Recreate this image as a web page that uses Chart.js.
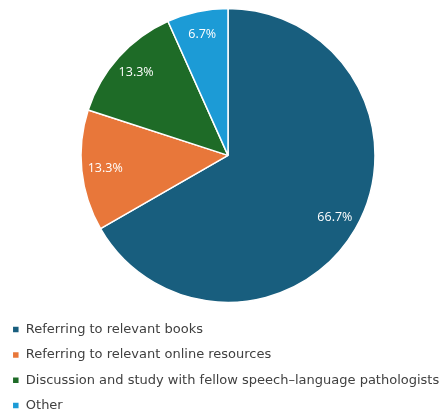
<!DOCTYPE html>
<html>
<head>
<meta charset="utf-8">
<script src="https://cdn.jsdelivr.net/npm/chart.js@4"></script>
<style>
  html, body { margin: 0; padding: 0; background: #ffffff; }
  #wrap { width: 441px; height: 414px; position: relative; }
</style>
</head>
<body>
<div id="wrap"><canvas id="c" width="441" height="414"></canvas></div>
<script>
const categories = [
  "Referring to relevant books",
  "Referring to relevant online resources",
  "Discussion and study with fellow speech\u2013language pathologists",
  "Other"
];
const values = [66.7, 13.3, 13.3, 6.7];
const valueLabels = ["66.7%", "13.3%", "13.3%", "6.7%"];

const colors = ["#185E7E", "#E8773A", "#1E6B27", "#1C9BD6"];

// shift the plot area horizontally so the pie sits slightly right of centre
const shiftPlugin = {
  id: "shiftArea",
  afterLayout(chart) {
    chart.chartArea.left += 7.5;
    chart.chartArea.right += 7.5;
  }
};

const sliceLabelPlugin = {
  id: "sliceLabels",
  afterDatasetsDraw(chart) {
    const ctx = chart.ctx;
    const meta = chart.getDatasetMeta(0);
    ctx.save();
    ctx.font = "12.5px 'Open Sans', 'Noto Sans', sans-serif";
    ctx.fillStyle = "#ffffff";
    ctx.textAlign = "center";
    ctx.textBaseline = "middle";
    meta.data.forEach((arc, i) => {
      const p = arc.getProps(["x", "y", "startAngle", "endAngle", "outerRadius"], true);
      const mid = (p.startAngle + p.endAngle) / 2;
      const r = p.outerRadius * 0.84;
      ctx.fillText(valueLabels[i], p.x + Math.cos(mid) * r, p.y + Math.sin(mid) * r);
    });
    ctx.restore();
  }
};

new Chart(document.getElementById("c"), {
  type: "pie",
  data: {
    labels: categories,
    datasets: [{
      data: values,
      backgroundColor: colors,
      borderColor: "#ffffff",
      borderWidth: 1.5,
      radius: 147
    }]
  },
  options: {
    responsive: false,
    animation: false,
    devicePixelRatio: 1,
    layout: { padding: { top: -2, left: 0, right: 0, bottom: -8 } },
    plugins: {
      tooltip: { enabled: false },
      legend: {
        position: "bottom",
        align: "start",
        labels: {
          boxWidth: 7,
          boxHeight: 7,
          padding: 12.3,
          color: "#404040",
          font: { family: "'DejaVu Sans', sans-serif", size: 13 }
        }
      }
    }
  },
  plugins: [shiftPlugin, sliceLabelPlugin]
});
</script>
</body>
</html>
